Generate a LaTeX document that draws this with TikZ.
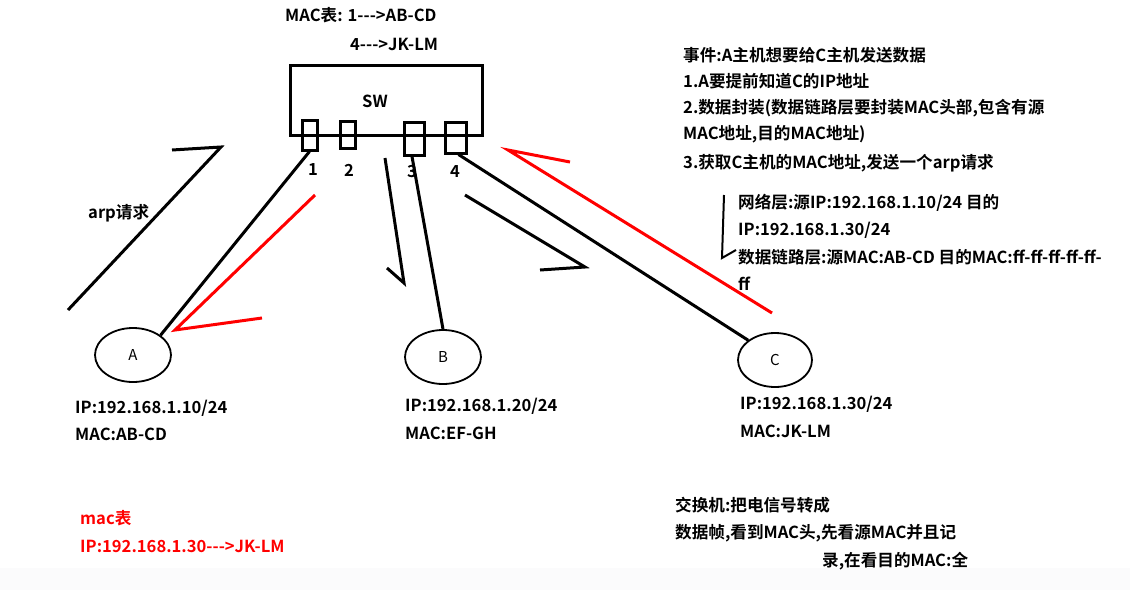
\documentclass[tikz,border=0pt]{standalone}
\usepackage{fontspec}
\setmainfont{Noto Sans CJK SC}[BoldFont={* Bold}]
\begin{document}
\begin{tikzpicture}[x=1pt,y=-1pt,
  t/.style={anchor=west,inner sep=0pt,font=\fontsize{16.6}{18}\selectfont\bfseries},
  rt/.style={t,text=red},
  ln/.style={line width=3pt},
  rl/.style={line width=3pt,red},
  port/.style={draw,line width=3pt,minimum width=15pt,inner sep=0pt},
  host/.style={draw,line width=1.8pt,ellipse,minimum width=76pt,minimum height=54pt,inner sep=0pt,font=\fontsize{15}{16}\selectfont}]
\usetikzlibrary{shapes.geometric}
\useasboundingbox (0,0) rectangle (1130,590);
\fill[blue!20!black!1.5] (0,568) rectangle (1130,590);
\node[t] (mt1) at (285,15) {MAC表: 1-{}-{}->AB-CD};
\node[t] (mt2) at (350,44) {4-{}-{}->JK-LM};
\node[draw,line width=3pt,minimum width=192pt,minimum height=70pt,inner sep=0pt] (sw) at (386,100) {};
\node[t,anchor=center] (swl) at (375,101) {SW};
\node[port,minimum height=30pt] (p1) at (309.5,135) {};
\node[port,minimum height=27pt] (p2) at (348,134.5) {};
\node[port,minimum width=20pt,minimum height=33pt] (p3) at (414,138.5) {};
\node[port,minimum width=21pt,minimum height=31pt] (p4) at (455.5,137.5) {};
\node[t,anchor=center] at (313,170) {1};
\node[t,anchor=center] at (349,170) {2};
\node[t,anchor=center] at (412,172) {3};
\node[t,anchor=center] at (455,172) {4};
\node[host] (A) at (133,355) {A};
\node[host] (B) at (443,357) {B};
\node[host,minimum width=74pt] (C) at (775,360) {C};
\draw[ln] (p1.south) -- (A.north east);
\draw[ln] ([xshift=-2pt]p3.south) -- (B.north);
\draw[ln] ([xshift=3pt]p4.south) -- (C.north west);
% strokes
\coordinate (a1) at (68,310); \coordinate (a2) at (221,147); \coordinate (a3) at (172,150);
\draw[ln] (a1) -- (a2) -- (a3);
\node[t] (arp) at (88,213) {arp请求};
\coordinate (r1) at (315,195); \coordinate (r2) at (175,330); \coordinate (r3) at (262,318);
\draw[rl] (r1) -- (r2) -- (r3);
\coordinate (b1) at (385,158); \coordinate (b2) at (404,283); \coordinate (b3) at (387,268);
\draw[ln] (b1) -- (b2) -- (b3);
\coordinate (c1) at (465,195); \coordinate (c2) at (585,267); \coordinate (c3) at (540,270);
\draw[ln] (c1) -- (c2) -- (c3);
\coordinate (d1) at (772,313); \coordinate (d2) at (508,150); \coordinate (d3) at (570,162);
\draw[rl] (d1) -- (d2) -- (d3);
\coordinate (e1) at (724,195); \coordinate (e2) at (722,258); \coordinate (e3) at (736,250);
\draw[line width=2pt] (e1) -- (e2) -- (e3);
% right text
\node[t] at (683,55) {事件:A主机想要给C主机发送数据};
\node[t] at (683,81) {1.A要提前知道C的IP地址};
\node[t] at (683,108) {2.数据封装(数据链路层要封装MAC头部,包含有源};
\node[t] at (683,134) {MAC地址,目的MAC地址)};
\node[t] at (683,163) {3.获取C主机的MAC地址,发送一个arp请求};
\node[t] at (738,203) {网络层:源IP:192.168.1.10/24 目的};
\node[t] at (738,230) {IP:192.168.1.30/24};
\node[t] at (738,257) {数据链路层:源MAC:AB-CD 目的MAC:ff-ff-ff-ff-ff-};
\node[t] at (738,284) {ff};
% host text
\node[t] at (75,408) {IP:192.168.1.10/24};
\node[t] at (75,434) {MAC:AB-CD};
\node[t] at (405,406) {IP:192.168.1.20/24};
\node[t] at (405,433) {MAC:EF-GH};
\node[t] at (740,404) {IP:192.168.1.30/24};
\node[t] at (740,431) {MAC:JK-LM};
\node[rt] at (80,518) {mac表};
\node[rt] at (80,546) {IP:192.168.1.30-{}-{}->JK-LM};
\node[t] at (675,505) {交换机:把电信号转成};
\node[t] at (675,533) {数据帧,看到MAC头,先看源MAC并且记};
\node[t] at (822,561) {录,在看目的MAC:全};
\end{tikzpicture}
\end{document}
